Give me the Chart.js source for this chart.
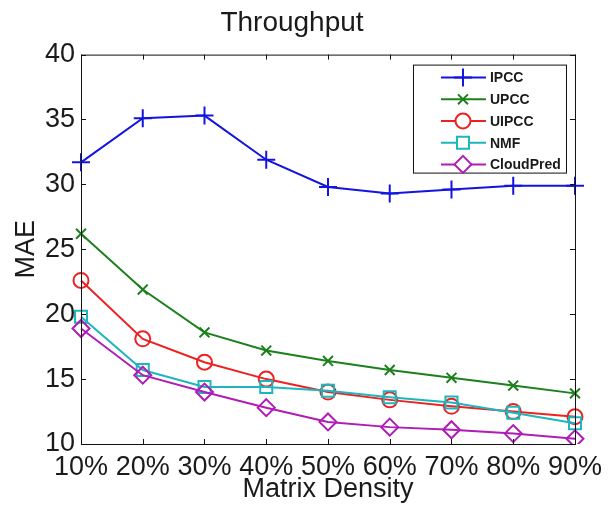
<!DOCTYPE html>
<html lang="en">

<head>
    <meta charset="UTF-8">
    <title>Throughput</title>
    <script src="https://cdn.jsdelivr.net/npm/chart.js"></script>
    <style>
        html, body { margin: 0; padding: 0; background: #fff; }
        .chart-box { width: 609px; height: 506px; }
    </style>
</head>

<body>
    <div class="chart-box">
        <canvas id="chartThroughput"></canvas>
    </div>

    <script>
        // dados
        const densidades = ['10%', '20%', '30%', '40%', '50%', '60%', '70%', '80%', '90%'];
        const ipcc = [31.7, 35.1, 35.3, 31.9, 29.8, 29.3, 29.6, 29.9, 29.9];
        const upcc = [26.2, 21.9, 18.6, 17.2, 16.4, 15.7, 15.1, 14.5, 13.9];
        const uipcc = [22.6, 18.1, 16.3, 15.0, 14.0, 13.4, 12.9, 12.5, 12.1];
        const nmf = [19.8, 15.7, 14.4, 14.4, 14.1, 13.6, 13.2, 12.4, 11.6];
        const cloudPred = [18.9, 15.3, 14.0, 12.8, 11.7, 11.3, 11.1, 10.8, 10.4];

        const fonte = 'Liberation Sans, Arial, sans-serif';

        function serie(label, data, cor, estilo, raio, ordem) {
            return {
                label: label,
                data: data,
                borderColor: cor,
                backgroundColor: 'rgba(0,0,0,0)',
                pointBorderColor: cor,
                pointBackgroundColor: 'rgba(0,0,0,0)',
                pointStyle: estilo,
                pointRadius: raio,
                pointBorderWidth: 2,
                borderWidth: 2,
                tension: 0,
                order: ordem
            };
        }

        // caixa, marcas internas e legenda no estilo Matlab
        const moldura = {
            id: 'moldura',
            afterDraw(chart) {
                const ctx = chart.ctx;
                const a = chart.chartArea;
                const x = chart.scales.x;
                const y = chart.scales.y;
                ctx.save();
                ctx.strokeStyle = '#111';
                ctx.lineWidth = 1;
                ctx.strokeRect(a.left + 0.5, a.top + 0.5, a.right - a.left, a.bottom - a.top);
                ctx.beginPath();
                x.ticks.forEach((t, i) => {
                    const px = Math.round(x.getPixelForTick(i)) + 0.5;
                    ctx.moveTo(px, a.bottom); ctx.lineTo(px, a.bottom - 5);
                    ctx.moveTo(px, a.top); ctx.lineTo(px, a.top + 5);
                });
                y.ticks.forEach(t => {
                    const py = Math.round(y.getPixelForValue(t.value)) + 0.5;
                    ctx.moveTo(a.left, py); ctx.lineTo(a.left + 5, py);
                    ctx.moveTo(a.right, py); ctx.lineTo(a.right - 5, py);
                });
                ctx.stroke();

                // legenda
                const lx = a.right - 9, ly = a.top + 10;
                const bx = lx - 153, bw = 153, bh = 108;
                ctx.fillStyle = '#fff';
                ctx.fillRect(bx, ly, bw, bh);
                ctx.strokeStyle = '#111';
                ctx.strokeRect(bx + 0.5, ly + 0.5, bw, bh);
                ctx.font = 'bold 14px ' + fonte;
                ctx.textBaseline = 'middle';
                chart.data.datasets.forEach((ds, i) => {
                    const cy = ly + 13 + i * 21.7;
                    ctx.strokeStyle = ds.borderColor;
                    ctx.lineWidth = 2;
                    ctx.beginPath();
                    ctx.moveTo(bx + 28, cy); ctx.lineTo(bx + 73, cy);
                    ctx.stroke();
                    ctx.fillStyle = '#fff';
                    Chart.helpers.drawPoint(ctx, {
                        pointStyle: ds.pointStyle, radius: ds.pointRadius, borderWidth: 2
                    }, bx + 50, cy);
                    ctx.fillStyle = '#1a1a1a';
                    ctx.fillText(ds.label, bx + 77, cy + 1);
                });
                ctx.restore();
            }
        };

        const ctx = document.getElementById('chartThroughput').getContext('2d');
        new Chart(ctx, {
            type: 'line',
            data: {
                labels: densidades,
                datasets: [
                    serie('IPCC', ipcc, '#1414e0', 'cross', 9, 4),
                    serie('UPCC', upcc, '#1c801c', 'crossRot', 7, 3),
                    serie('UIPCC', uipcc, '#ec2222', 'circle', 7.5, 2),
                    serie('NMF', nmf, '#1eb6bd', 'rect', 8.5, 1),
                    serie('CloudPred', cloudPred, '#b01cb6', 'rectRot', 8.5, 0)
                ]
            },
            options: {
                responsive: true,
                maintainAspectRatio: false,
                animation: false,
                layout: { padding: { left: 0, right: 25, top: 0, bottom: 0 } },
                plugins: {
                    legend: { display: false },
                    tooltip: { enabled: false },
                    title: {
                        display: true,
                        text: 'Throughput',
                        color: '#1a1a1a',
                        font: { family: fonte, size: 28, weight: 'normal' },
                        padding: { top: 6, bottom: 15 }
                    }
                },
                scales: {
                    x: {
                        offset: false,
                        grid: { display: false, drawTicks: false },
                        border: { display: false },
                        ticks: {
                            color: '#1a1a1a', padding: 7, autoSkip: false, maxRotation: 0,
                            font: { family: fonte, size: 27 }
                        },
                        title: {
                            display: true, text: 'Matrix Density', color: '#1a1a1a',
                            font: { family: fonte, size: 27 },
                            padding: { top: 0, bottom: 0 }
                        },
                        afterFit(scale) { scale.height = 62; }
                    },
                    y: {
                        min: 10, max: 40,
                        grid: { display: false, drawTicks: false },
                        border: { display: false },
                        ticks: {
                            stepSize: 5, color: '#1a1a1a', padding: 6,
                            font: { family: fonte, size: 27 }
                        },
                        title: {
                            display: true, text: 'MAE', color: '#1a1a1a',
                            font: { family: fonte, size: 27 },
                            padding: { top: 10, bottom: 0 }
                        },
                        afterFit(scale) { scale.width = 81; }
                    }
                }
            },
            plugins: [moldura]
        });
    </script>
</body>

</html>
